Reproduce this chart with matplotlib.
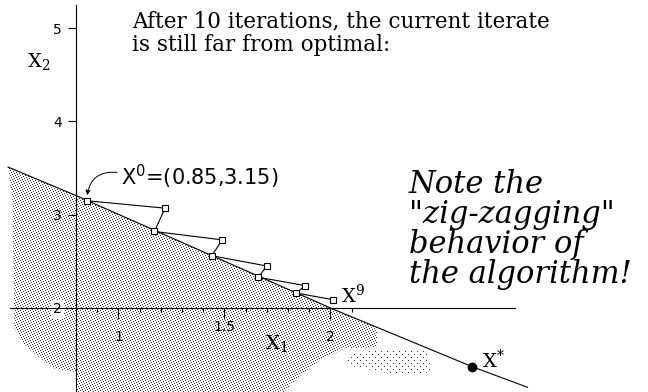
import numpy as np
import matplotlib
matplotlib.use("Agg")
import matplotlib.pyplot as plt
from matplotlib.patches import Polygon

# -- Data ----------------------------------------------------------------
# iterates x^0 .. x^9 (the even ones land back on the constraint boundary)
iter_x1 = [0.85, 1.22, 1.17, 1.49, 1.44, 1.70, 1.66, 1.88, 1.84, 2.01]
iter_x2 = [3.15, 3.07, 2.82, 2.73, 2.56, 2.45, 2.33, 2.24, 2.16, 2.09]

# constraint boundary
bound_x1 = [0.48, 0.80, 2.01, 2.67, 2.93]
bound_x2 = [3.51, 3.205, 1.99, 1.37, 1.15]

# optimum
opt_x1 = [2.67]
opt_x2 = [1.37]

# lower outline of the feasible (shaded) region, right to left
region_x1 = [2.22, 2.07, 1.95, 1.86, 1.78, 0.805, 0.805, 0.70, 0.62, 0.55, 0.51, 0.50]
region_x2 = [1.58, 1.57, 1.44, 1.28, 1.10, 1.10, 1.31, 1.35, 1.48, 1.62, 1.78, 3.16]

# loose patch of dots further along the boundary
sparse_x1 = [2.07, 2.23, 2.45, 2.48, 2.30, 2.09]
sparse_x2 = [1.49, 1.56, 1.56, 1.31, 1.29, 1.38]

x_ticks = [1, 1.5, 2]
x_minor = [0.9, 1.1, 1.2, 1.3, 1.4, 1.6, 1.7, 1.8, 1.9, 2.1]
y_ticks = [2, 3, 4, 5]

title_lines = ["After 10 iterations, the current iterate",
               "is still far from optimal:"]
note_lines = ["Note the", "\"zig-zagging\"", "behavior of", "the algorithm!"]

# -- Figure --------------------------------------------------------------
W, H = 648, 392
fig = plt.figure(figsize=(W / 100, H / 100), dpi=100)
ax = fig.add_axes([0, 0, 1, 1])
ax.set_xlim(0.4415, 3.498)
ax.set_ylim(1.0997, 5.301)
ax.patch.set_visible(False)

# axes crossing at (0.8, 2)
for side in ("top", "right"):
    ax.spines[side].set_visible(False)
ax.spines["left"].set_position(("data", 0.8))
ax.spines["left"].set_bounds(1.0997, 5.246)
ax.spines["bottom"].set_position(("data", 2))
ax.spines["bottom"].set_bounds(0.489, 2.871)
for sp in ax.spines.values():
    sp.set_linewidth(0.8)

ax.set_xticks(x_ticks)
ax.set_xticks(x_minor, minor=True)
ax.tick_params(axis="x", which="major", length=8, width=0.8, labelbottom=False)
ax.tick_params(axis="x", which="minor", length=3, width=0.8)
ax.set_yticks(y_ticks)
ax.set_yticklabels([str(t) for t in y_ticks])
ax.tick_params(axis="y", length=6, width=0.8, pad=4, labelsize=10)
for lab in ax.get_yticklabels():
    if lab.get_text() == "2":
        lab.set_bbox(dict(facecolor="white", edgecolor="none", pad=1.5))

# x tick labels sit at uneven heights
ax.text(1, 1.69, "1", ha="center", va="center", fontsize=10)
ax.text(1.5, 1.80, "1.5", ha="center", va="center", fontsize=10)
ax.text(2, 1.69, "2", ha="center", va="center", fontsize=10)

# -- Stippled feasible region --------------------------------------------
rr, cc = np.mgrid[0:H, 0:W]
dense = (cc + 2 * rr) % 5 == 0
sparse = (rr % 3 == 0) & ((cc + rr) % 6 == 0)


def stipple(mask, xs, ys):
    img = np.zeros((H, W, 4), dtype=np.uint8)
    img[mask] = (55, 55, 55, 255)
    im = fig.figimage(img, xo=0, yo=0, origin="upper", zorder=-1)
    im.set_clip_path(Polygon(np.column_stack([xs, ys]), closed=True,
                             transform=ax.transData))


top_x = np.linspace(bound_x1[0], region_x1[0], 60)
top_y = np.interp(top_x, bound_x1, bound_x2)
stipple(dense, np.concatenate([top_x, region_x1]),
        np.concatenate([top_y, region_x2]))
stipple(sparse, sparse_x1, sparse_x2)

# -- Boundary, iterates, optimum -----------------------------------------
ax.plot(bound_x1, bound_x2, color="black", lw=0.8, zorder=3)
ax.plot(iter_x1, iter_x2, color="black", lw=0.8, zorder=4,
        marker="s", ms=5, mfc="white", mec="black", mew=0.8)
ax.plot(opt_x1, opt_x2, "o", color="black", ms=6, zorder=5)

# -- Labels --------------------------------------------------------------
ax.annotate(r"X$^\mathregular{0}$=(0.85,3.15)", xy=(iter_x1[0], iter_x2[0]),
            xytext=(25, 11), textcoords="offset points",
            ha="left", va="baseline", fontsize=15, family="DejaVu Sans",
            arrowprops=dict(arrowstyle="-|>", connectionstyle="arc3,rad=0.55",
                            relpos=(0, 0.65), shrinkA=1, shrinkB=4,
                            lw=0.7, color="black", mutation_scale=7))
ax.annotate(r"X$^\mathregular{9}$", xy=(iter_x1[-1], iter_x2[-1]),
            xytext=(6, -2), textcoords="offset points",
            ha="left", va="baseline", fontsize=14, family="DejaVu Serif")
ax.annotate(r"X$^\mathregular{*}$", xy=(opt_x1[0], opt_x2[0]),
            xytext=(7, -1), textcoords="offset points",
            ha="left", va="baseline", fontsize=14, family="DejaVu Serif")

ax.text(1.69, 1.55, r"X$_\mathregular{1}$", ha="left", va="baseline",
        fontsize=14, family="DejaVu Serif")
ax.text(0.569, 4.58, r"X$_\mathregular{2}$", ha="left", va="baseline",
        fontsize=14, family="DejaVu Serif")

for i, line in enumerate(title_lines):
    fig.text(132 / W, 1 - (27 + 24 * i) / H, line, ha="left", va="baseline",
             fontsize=15.5, family="DejaVu Serif")

for i, line in enumerate(note_lines):
    fig.text(409 / W, 1 - (193 + 30 * i) / H, line, ha="left", va="baseline",
             fontsize=22, family="DejaVu Serif", style="italic")

fig.savefig("out.png", dpi=100)
